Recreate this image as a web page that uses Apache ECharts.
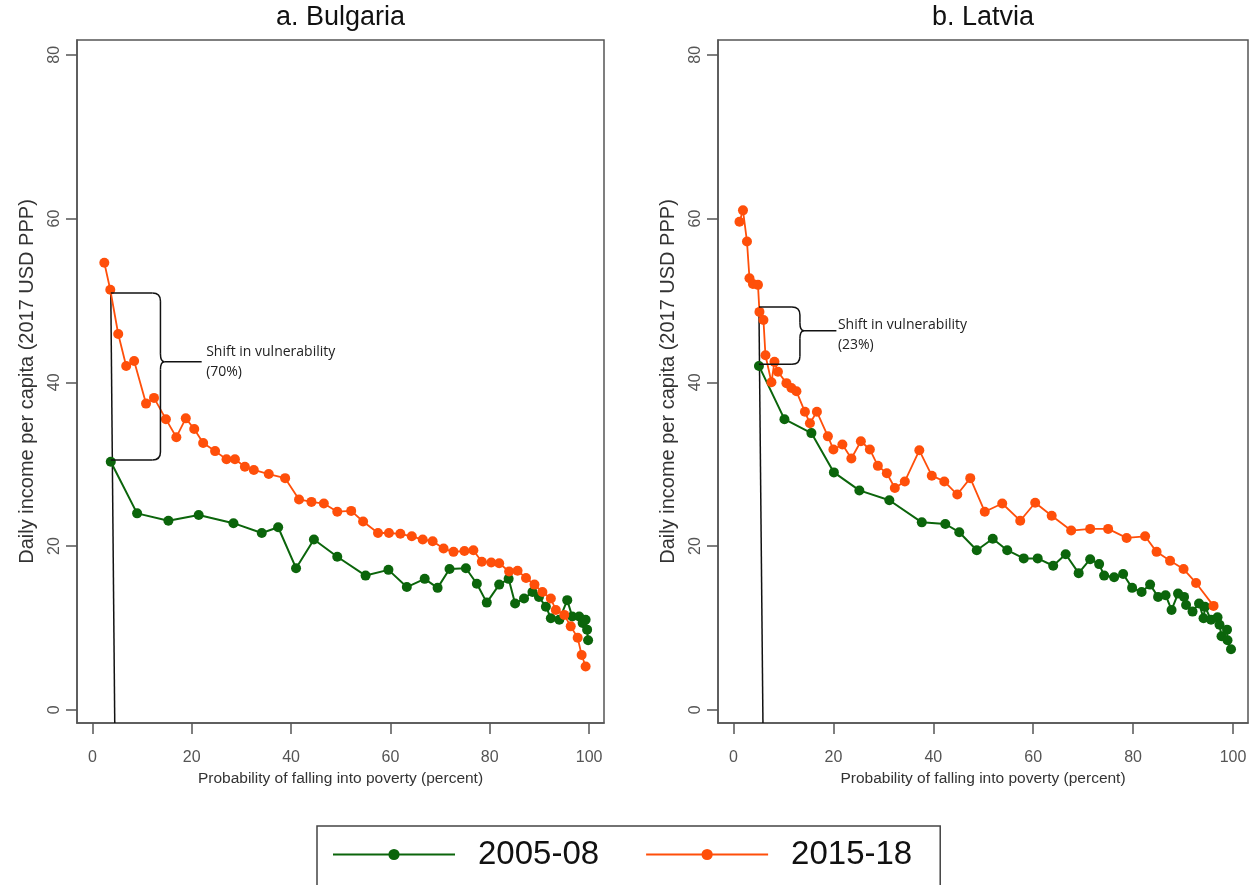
<!DOCTYPE html>
<html><head><meta charset="utf-8">
<script src="https://cdn.jsdelivr.net/npm/echarts@6/dist/echarts.min.js"></script>
<style>html,body{margin:0;padding:0;background:#fff}#c{width:1250px;height:885px}</style>
</head><body><div id="c"></div>
<script>
// ---------- data ----------
const panelTitles = ['a. Bulgaria', 'b. Latvia'];
const seriesNames = ['2005-08', '2015-18'];
const xTicks = [0, 20, 40, 60, 80, 100];
const yTicks = [0, 20, 40, 60, 80];
const xTitle = 'Probability of falling into poverty (percent)';
const yTitle = 'Daily income per capita (2017 USD PPP)';
const noteText = 'Shift in vulnerability';
const noteShares = ['(70%)', '(23%)'];

const bulgaria0508 = [[3.7,30.3],[9.0,24.0],[15.3,23.1],[21.4,23.8],[28.4,22.8],[34.1,21.6],[37.4,22.3],[41.0,17.3],[44.6,20.8],[49.3,18.7],[55.0,16.4],[59.6,17.1],[63.3,15.0],[66.9,16.0],[69.5,14.9],[71.9,17.2],[75.2,17.3],[77.4,15.4],[79.4,13.1],[81.9,15.3],[83.8,16.0],[85.1,13.0],[86.9,13.6],[88.6,14.4],[89.9,13.8],[91.3,12.6],[92.3,11.2],[94.0,11.0],[95.6,13.4],[96.6,11.4],[98.0,11.4],[98.7,10.6],[99.3,11.0],[99.6,9.8],[99.8,8.5]];
const bulgaria1518 = [[2.4,54.6],[3.6,51.3],[5.2,45.9],[6.8,42.0],[8.4,42.6],[10.8,37.4],[12.4,38.1],[14.8,35.5],[16.9,33.3],[18.8,35.6],[20.5,34.3],[22.3,32.6],[24.7,31.6],[27.0,30.6],[28.7,30.6],[30.7,29.7],[32.5,29.3],[35.5,28.8],[38.8,28.3],[41.6,25.7],[44.1,25.4],[46.6,25.2],[49.3,24.2],[52.1,24.3],[54.5,23.0],[57.5,21.6],[59.7,21.6],[62.0,21.5],[64.3,21.2],[66.5,20.8],[68.5,20.6],[70.7,19.7],[72.7,19.3],[74.9,19.4],[76.7,19.5],[78.4,18.1],[80.3,18.0],[81.9,17.9],[83.9,16.9],[85.6,17.0],[87.3,16.1],[89.0,15.3],[90.6,14.4],[92.3,13.6],[93.3,12.2],[95.0,11.6],[96.3,10.2],[97.7,8.8],[98.5,6.7],[99.3,5.3]];
const latvia0508 = [[5.1,42.0],[10.2,35.5],[15.6,33.8],[20.1,29.0],[25.2,26.8],[31.2,25.6],[37.7,22.9],[42.4,22.7],[45.2,21.7],[48.7,19.5],[51.9,20.9],[54.8,19.5],[58.1,18.5],[60.9,18.5],[64.0,17.6],[66.5,19.0],[69.1,16.7],[71.4,18.4],[73.2,17.8],[74.2,16.4],[76.2,16.2],[78.0,16.6],[79.8,14.9],[81.7,14.4],[83.4,15.3],[85.0,13.8],[86.5,14.0],[87.7,12.2],[89.0,14.2],[90.2,13.8],[90.6,12.8],[91.9,12.0],[93.2,13.0],[94.1,11.2],[94.4,12.6],[95.6,11.0],[96.9,11.3],[97.3,10.4],[97.7,9.0],[98.8,9.8],[98.9,8.5],[99.6,7.4]];
const latvia1518 = [[1.2,59.6],[1.9,61.0],[2.7,57.2],[3.2,52.7],[3.9,52.0],[4.9,51.9],[5.2,48.6],[6.0,47.6],[6.4,43.3],[7.6,40.0],[8.2,42.5],[8.9,41.3],[10.6,39.9],[11.6,39.3],[12.6,38.9],[14.3,36.4],[15.3,35.0],[16.7,36.4],[18.9,33.4],[20.0,31.8],[21.8,32.4],[23.6,30.7],[25.5,32.8],[27.3,31.8],[28.9,29.8],[30.7,28.9],[32.3,27.1],[34.3,27.9],[37.2,31.7],[39.7,28.6],[42.2,27.9],[44.8,26.3],[47.4,28.3],[50.3,24.2],[53.8,25.2],[57.4,23.1],[60.4,25.3],[63.7,23.7],[67.6,21.9],[71.4,22.1],[75.0,22.1],[78.7,21.0],[82.4,21.2],[84.7,19.3],[87.4,18.2],[90.1,17.2],[92.6,15.5],[96.1,12.7]];

// vertical marker line: from the 2015-18 point down to the axis floor
const markerLines = [[[3.7,51.2],[4.5,-1.6]], [[5.1,48.9],[5.9,-1.6]]];
// brace anchors (data units)
const braces = [
  {x0:3.7, xb:13.7, top:50.9, bottom:30.5, tip:42.5, tipEnd:22.0, textX:22.9, textY1:43.7, textY2:41.3},
  {x0:5.1, xb:13.3, top:49.2, bottom:42.2, tip:46.3, tipEnd:20.6, textX:20.9, textY1:47.0, textY2:44.5}
];

// ---------- style ----------
const GREEN = '#0b650b', ORANGE = '#ff4f0a', AXIS = '#555555';
const FONT = 'Liberation Sans, Arial, sans-serif';
const grids = [
  {left: 77, top: 40, width: 527, height: 683},
  {left: 718, top: 40, width: 530, height: 683}
];

const chart = echarts.init(document.getElementById('c'), null, {renderer: 'canvas'});

const xAxes = grids.map((g, i) => ({
  type: 'value', gridIndex: i, min: -3.1, max: 103,
  name: xTitle, nameLocation: 'middle', nameGap: 44,
  nameTextStyle: {fontSize: 15.5, color: '#333', fontFamily: FONT},
  axisLine: {show: true, onZero: false, lineStyle: {color: AXIS, width: 1.5}},
  axisTick: {show: true, customValues: xTicks, length: 11, lineStyle: {color: AXIS, width: 1.5}},
  axisLabel: {customValues: xTicks, fontSize: 16, color: '#555', margin: 27, fontFamily: FONT},
  splitLine: {show: false}
}));
const yAxes = grids.map((g, i) => ({
  type: 'value', gridIndex: i, min: -1.6, max: 81.8,
  name: yTitle, nameLocation: 'middle', nameGap: 40, nameRotate: 90,
  nameTextStyle: {fontSize: 20, color: '#333', fontFamily: FONT},
  axisLine: {show: true, onZero: false, lineStyle: {color: AXIS, width: 1.5}},
  axisTick: {show: true, customValues: yTicks, length: 11, lineStyle: {color: AXIS, width: 1.5}},
  axisLabel: {customValues: yTicks, fontSize: 16, color: '#555', margin: 14, rotate: 90, fontFamily: FONT},
  splitLine: {show: false}
}));

const panels = [[bulgaria0508, bulgaria1518], [latvia0508, latvia1518]];
const series = [];
panels.forEach((pair, i) => {
  series.push({
    type: 'line', xAxisIndex: i, yAxisIndex: i, data: markerLines[i],
    symbol: 'none', lineStyle: {color: '#111', width: 1.5}, z: 1, silent: true
  });
  series.push({
    name: seriesNames[0], type: 'line', xAxisIndex: i, yAxisIndex: i, data: pair[0],
    symbol: 'circle', symbolSize: 10, itemStyle: {color: GREEN}, lineStyle: {color: GREEN, width: 2}, z: 2
  });
  series.push({
    name: seriesNames[1], type: 'line', xAxisIndex: i, yAxisIndex: i, data: pair[1],
    symbol: 'circle', symbolSize: 10, itemStyle: {color: ORANGE}, lineStyle: {color: ORANGE, width: 1.8}, z: 3
  });
});

chart.setOption({
  animation: false,
  backgroundColor: '#fff',
  grid: grids.map(g => Object.assign({show: true, borderColor: AXIS, borderWidth: 1.5, containLabel: false}, g)),
  xAxis: xAxes,
  yAxis: yAxes,
  legend: {
    data: seriesNames, left: 317, top: 826, orient: 'horizontal',
    itemWidth: 122, itemHeight: 14, itemGap: 46,
    padding: [12, 28, 40, 15], borderColor: '#444', borderWidth: 1.5,
    textStyle: {fontSize: 33, color: '#111', fontFamily: FONT, padding: [0, 0, 0, 18]}
  },
  series: series
});

// ---------- annotations ----------
const graphics = [];
const stroke = {stroke: '#111', lineWidth: 1.5, fill: null};
grids.forEach((g, i) => {
  graphics.push({
    type: 'text', x: g.left + g.width / 2, y: 18,
    style: {text: panelTitles[i], fontSize: 27, fill: '#111', fontFamily: FONT, textAlign: 'center', textVerticalAlign: 'middle'}
  });
  const b = braces[i];
  const P = (x, y) => chart.convertToPixel({gridIndex: i}, [x, y]);
  const [xL, yT] = P(b.x0, b.top);
  const [, yB] = P(b.x0, b.bottom);
  const [xb, yM] = P(b.xb, b.tip);
  const [xE] = P(b.tipEnd, b.tip);
  const r = 8, t = 4;
  const segs = [
    {type: 'line', shape: {x1: xL, y1: yT, x2: xb - r, y2: yT}},
    {type: 'bezierCurve', shape: {x1: xb - r, y1: yT, x2: xb, y2: yT + r, cpx1: xb, cpy1: yT}},
    {type: 'line', shape: {x1: xb, y1: yT + r, x2: xb, y2: yM - r}},
    {type: 'bezierCurve', shape: {x1: xb, y1: yM - r, x2: xb + t, y2: yM, cpx1: xb, cpy1: yM}},
    {type: 'bezierCurve', shape: {x1: xb + t, y1: yM, x2: xb, y2: yM + r, cpx1: xb, cpy1: yM}},
    {type: 'line', shape: {x1: xb, y1: yM + r, x2: xb, y2: yB - r}},
    {type: 'bezierCurve', shape: {x1: xb, y1: yB - r, x2: xb - r, y2: yB, cpx1: xb, cpy1: yB}},
    {type: 'line', shape: {x1: xb - r, y1: yB, x2: xL, y2: yB}},
    {type: 'line', shape: {x1: xb + t, y1: yM, x2: xE, y2: yM}}
  ];
  segs.forEach(s => { s.style = stroke; s.z = 10; graphics.push(s); });
  const [tx, ty1] = P(b.textX, b.textY1);
  const [, ty2] = P(b.textX, b.textY2);
  graphics.push({type: 'text', x: tx, y: ty1, z: 10, style: {text: noteText, fontSize: 14, fill: '#222', fontFamily: 'Open Sans, sans-serif', textVerticalAlign: 'middle'}});
  graphics.push({type: 'text', x: tx, y: ty2, z: 10, style: {text: noteShares[i], fontSize: 14, fill: '#222', fontFamily: 'Open Sans, sans-serif', textVerticalAlign: 'middle'}});
});
chart.setOption({graphic: graphics});
</script>
</body></html>
